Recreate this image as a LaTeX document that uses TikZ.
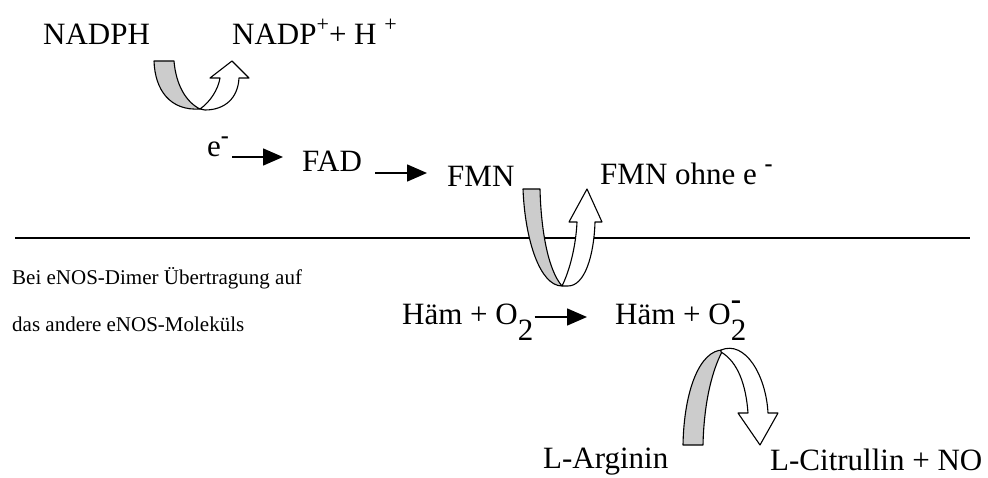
\documentclass[tikz,border=0pt]{standalone}
\usepackage{fontspec}
\setmainfont{Liberation Serif}
\usetikzlibrary{arrows.meta,calc}
\newcommand\lowtwo{\raisebox{-0.5em}{2}}
\newcommand\lowtwominus{\rlap{\raisebox{-0.5em}{2}}\raisebox{0.5em}{\bfseries -}}
\newcommand\supsign[1]{\raisebox{0.45em}{\fontsize{22}{22}\selectfont #1}}
\newcommand\supminus{\raisebox{0.45em}{\fontsize{24}{24}\selectfont\bfseries -}}
\tikzset{
  lbl/.style={anchor=base west, inner sep=0pt, font=\fontsize{31}{37}\selectfont},
  note/.style={anchor=base west, inner sep=0pt, font=\fontsize{21}{25}\selectfont},
  flow/.style={line width=1.5pt, -{Triangle[length=20pt,width=17pt]}},
  backband/.style={draw, fill=black!20, line width=1.1pt, line join=round},
  frontband/.style={draw, fill=white, line width=1.1pt, line join=round},
}
\begin{document}
\begin{tikzpicture}[x=1pt,y=-1pt]
\useasboundingbox (0,0) rectangle (988,478);

% labels
\node[lbl] (nadph) at (43,45) {NADPH};
\node[lbl] (nadp) at (232,45) {NADP\supsign{+}+ H \supsign{+}};
\node[lbl] (e) at (207,157) {e\supminus};
\node[lbl] (fad) at (302,172) {FAD};
\node[lbl] (fmn) at (447,187) {FMN};
\node[lbl] (fmno) at (600,185) {FMN ohne e \supminus};
\node[note] (n1) at (12,285) {Bei eNOS-Dimer Übertragung auf};
\node[note] (n2) at (12,332) {das andere eNOS-Moleküls};
\node[lbl] (haem1) at (402,325) {Häm + O\lowtwo};
\node[lbl] (haem2) at (615,325) {Häm + O\lowtwominus};
\node[lbl] (arg) at (543,468) {L-Arginin};
\node[lbl] (cit) at (770,470) {L-Citrullin + NO};

% straight reaction arrows
\draw[flow] ([xshift=3pt]e.base east) -- ([xshift=-19pt,yshift=15pt]fad.base west);
\draw[flow] ([xshift=13pt,yshift=-1pt]fad.base east) -- ([xshift=-20pt,yshift=14pt]fmn.base west);
\draw[flow] ([xshift=1pt,yshift=8pt]haem1.base east) -- ([xshift=-28pt,yshift=8pt]haem2.base west);

% dividing line
\coordinate (lineL) at (15,238);
\coordinate (lineR) at (970,238);
\draw[line width=1.4pt] (lineL) -- (lineR);

% NADPH -> NADP+ turn arrow
\path[backband] (154,61) -- (174,61) .. controls (176,85) and (186,102) .. (200,109)
  .. controls (170,111) and (155,90) .. (154,61) -- cycle;
\path[frontband] (200,109) .. controls (210,102) and (218,90) .. (220,78) -- (210,78)
  -- (232,61) -- (249,78) -- (239,78) .. controls (238,98) and (225,110) .. (205,110) -- cycle;

% FMN -> heme turn arrow
\path[backband] (523,189) -- (540,189) .. controls (541,230) and (548,270) .. (562,286)
  .. controls (540,286) and (525,240) .. (523,189) -- cycle;
\path[frontband] (562,286) .. controls (570,270) and (576,245) .. (577,222) -- (569,222)
  -- (587,189) -- (602,222) -- (595,222) .. controls (594,255) and (585,286) .. (568,286) -- cycle;

% L-Arginin -> L-Citrullin turn arrow
\path[backband] (683,445) -- (703,445) .. controls (704,400) and (713,368) .. (723,350)
  .. controls (700,350) and (684,390) .. (683,445) -- cycle;
\path[frontband] (721,350) .. controls (745,340) and (766,375) .. (768,413) -- (778,413)
  -- (760,445) -- (738,413) -- (748,413) .. controls (746,385) and (738,362) .. (721,352) -- cycle;
\end{tikzpicture}
\end{document}
